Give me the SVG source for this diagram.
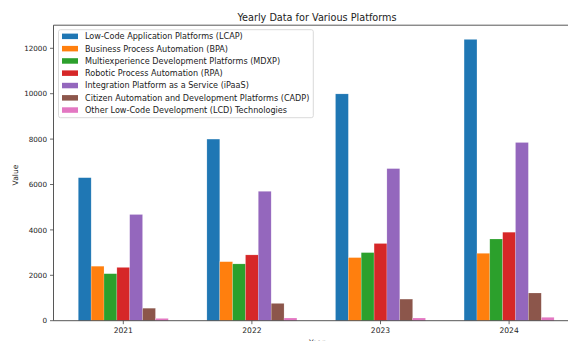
<svg xmlns="http://www.w3.org/2000/svg" width="568" height="341" viewBox="0 0 568 341">
<style>
text{font-family:"DejaVu Sans","Liberation Sans",sans-serif;fill:#222}
.tick{font-size:7.2px}
.leg{font-size:8.1px}
.c0{fill:#1f77b4}.c1{fill:#ff7f0e}.c2{fill:#2ca02c}.c3{fill:#d62728}.c4{fill:#9467bd}.c5{fill:#8c564b}.c6{fill:#e377c2}
.bar rect{stroke:#fff;stroke-opacity:0.35;stroke-width:0.5}
.spine{stroke:#444;stroke-width:0.9;fill:none}
.tk{stroke:#444;stroke-width:0.8}
</style>
<rect width="568" height="341" fill="#fff"/>
<text x="317" y="20.5" text-anchor="middle" style="font-size:9.7px">Yearly Data for Various Platforms</text>
<g id="bars" class="bar">
<g id="y2021">
<rect class="c0" x="78.3" y="177.7" width="12.86" height="143.0"/>
<rect class="c1" x="91.15" y="266.2" width="12.86" height="54.5"/>
<rect class="c2" x="104.0" y="273.7" width="12.86" height="47.0"/>
<rect class="c3" x="116.9" y="267.4" width="12.86" height="53.3"/>
<rect class="c4" x="129.7" y="214.5" width="12.86" height="106.2"/>
<rect class="c5" x="142.6" y="308.2" width="12.86" height="12.5"/>
<rect class="c6" x="155.45" y="318.4" width="12.86" height="2.3"/>
</g>
<g id="y2022">
<rect class="c0" x="206.9" y="139.1" width="12.86" height="181.6"/>
<rect class="c1" x="219.75" y="261.7" width="12.86" height="59.0"/>
<rect class="c2" x="232.6" y="263.9" width="12.86" height="56.8"/>
<rect class="c3" x="245.5" y="254.9" width="12.86" height="65.8"/>
<rect class="c4" x="258.3" y="191.3" width="12.86" height="129.4"/>
<rect class="c5" x="271.2" y="303.4" width="12.86" height="17.3"/>
<rect class="c6" x="284.05" y="318.0" width="12.86" height="2.7"/>
</g>
<g id="y2023">
<rect class="c0" x="335.5" y="93.9" width="12.86" height="226.8"/>
<rect class="c1" x="348.35" y="257.6" width="12.86" height="63.1"/>
<rect class="c2" x="361.2" y="252.6" width="12.86" height="68.1"/>
<rect class="c3" x="374.1" y="243.5" width="12.86" height="77.2"/>
<rect class="c4" x="386.9" y="168.6" width="12.86" height="152.1"/>
<rect class="c5" x="399.8" y="299.1" width="12.86" height="21.6"/>
<rect class="c6" x="412.65" y="318.0" width="12.86" height="2.7"/>
</g>
<g id="y2024">
<rect class="c0" x="464.1" y="39.4" width="12.86" height="281.3"/>
<rect class="c1" x="476.95" y="253.3" width="12.86" height="67.4"/>
<rect class="c2" x="489.8" y="239.0" width="12.86" height="81.7"/>
<rect class="c3" x="502.7" y="232.2" width="12.86" height="88.5"/>
<rect class="c4" x="515.5" y="142.5" width="12.86" height="178.2"/>
<rect class="c5" x="528.4" y="293.0" width="12.86" height="27.7"/>
<rect class="c6" x="541.25" y="317.3" width="12.86" height="3.4"/>
</g>
</g>
<g id="axes">
<path class="spine" d="M53.5,320.7 V25.2 H568 M53.5,320.7 H568"/>
<g class="tk">
<line x1="50" y1="320.7" x2="53.5" y2="320.7"/>
<line x1="50" y1="275.3" x2="53.5" y2="275.3"/>
<line x1="50" y1="229.9" x2="53.5" y2="229.9"/>
<line x1="50" y1="184.5" x2="53.5" y2="184.5"/>
<line x1="50" y1="139.1" x2="53.5" y2="139.1"/>
<line x1="50" y1="93.7" x2="53.5" y2="93.7"/>
<line x1="50" y1="48.3" x2="53.5" y2="48.3"/>
<line x1="123.3" y1="320.7" x2="123.3" y2="324.2"/>
<line x1="251.9" y1="320.7" x2="251.9" y2="324.2"/>
<line x1="380.5" y1="320.7" x2="380.5" y2="324.2"/>
<line x1="509.1" y1="320.7" x2="509.1" y2="324.2"/>
</g>
<g class="tick" text-anchor="end">
<text x="47" y="323.3">0</text>
<text x="47" y="277.9">2000</text>
<text x="47" y="232.5">4000</text>
<text x="47" y="187.1">6000</text>
<text x="47" y="141.7">8000</text>
<text x="47" y="96.3">10000</text>
<text x="47" y="50.9">12000</text>
</g>
<g class="tick" text-anchor="middle" style="font-size:7.6px">
<text x="123.3" y="333.3">2021</text>
<text x="251.9" y="333.3">2022</text>
<text x="380.5" y="333.3">2023</text>
<text x="509.1" y="333.3">2024</text>
</g>
<text x="317" y="345" text-anchor="middle" class="tick" style="font-size:7.6px">Year</text>
<text transform="translate(17.5,175) rotate(-90)" text-anchor="middle" style="font-size:7.6px">Value</text>
</g>
<g id="legend">
<rect x="58.5" y="29.7" width="254.8" height="88" rx="2" fill="#fff" fill-opacity="0.85" stroke="#d0d0d0" stroke-width="0.8"/>
<rect class="c0" x="62" y="33.6" width="16" height="5.5"/>
<rect class="c1" x="62" y="45.9" width="16" height="5.5"/>
<rect class="c2" x="62" y="58.2" width="16" height="5.5"/>
<rect class="c3" x="62" y="70.4" width="16" height="5.5"/>
<rect class="c4" x="62" y="82.8" width="16" height="5.5"/>
<rect class="c5" x="62" y="95.1" width="16" height="5.5"/>
<rect class="c6" x="62" y="107.3" width="16" height="5.5"/>
<g class="leg">
<text x="85" y="39.2">Low-Code Application Platforms (LCAP)</text>
<text x="85" y="51.5">Business Process Automation (BPA)</text>
<text x="85" y="63.8">Multiexperience Development Platforms (MDXP)</text>
<text x="85" y="76.0">Robotic Process Automation (RPA)</text>
<text x="85" y="88.4">Integration Platform as a Service (iPaaS)</text>
<text x="85" y="100.7">Citizen Automation and Development Platforms (CADP)</text>
<text x="85" y="112.9">Other Low-Code Development (LCD) Technologies</text>
</g>
</g>
</svg>
